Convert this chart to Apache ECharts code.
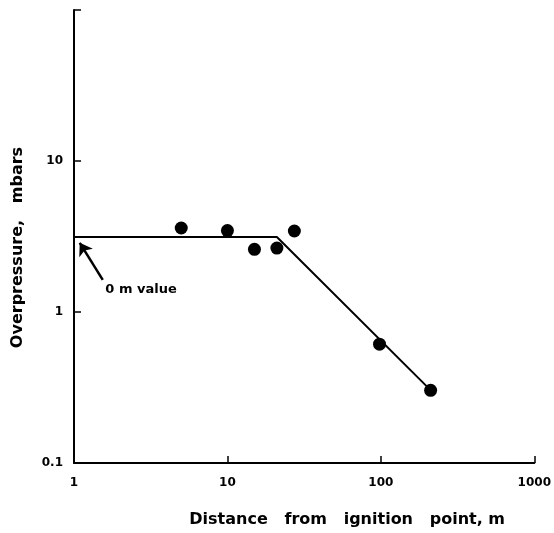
<!DOCTYPE html>
<html>
<head>
<meta charset="utf-8">
<script src="https://cdn.jsdelivr.net/npm/echarts@6/dist/echarts.min.js"></script>
<style>html,body{margin:0;padding:0;background:#fff;}#c{width:554px;height:533px;}</style>
</head>
<body>
<div id="c"></div>
<script>
// Measured points (distance m, overpressure mbar)
var distances = [5, 10, 15, 21, 27.3, 98, 211];
var overpressures = [3.6, 3.46, 2.6, 2.65, 3.44, 0.612, 0.303];
// Fitted line vertices
var fitX = [1, 21, 210];
var fitY = [3.14, 3.14, 0.305];
// Annotation: arrow from tail to tip, and text anchor
var arrowTail = [1.54, 1.63];
var arrowTip = [1.09, 2.87];
var noteAnchor = [1.6, 1.4];
var noteText = '0 m value';
// Tick labels
var xTickValues = [1, 10, 100, 1000];
var xTickLabels = ['1', '10', '100', '1000'];
var yTickValues = [0.1, 1, 10];
var yTickLabels = ['0.1', '1', '10'];

function lookup(vals, labs, v) {
  for (var i = 0; i < vals.length; i++) {
    if (Math.abs(Math.log10(v) - Math.log10(vals[i])) < 1e-6) return labs[i];
  }
  return '';
}

var font = 'DejaVu Sans';
var chart = echarts.init(document.getElementById('c'));
chart.setOption({
  backgroundColor: '#fff',
  animation: false,
  grid: {left: 74, right: 15, top: 10, bottom: 65},
  xAxis: {
    type: 'log', logBase: 10, min: 1, max: 1000,
    name: 'Distance   from   ignition   point, m',
    nameLocation: 'middle', nameGap: 49,
    nameTextStyle: {color: '#000', fontFamily: font, fontSize: 16, fontWeight: 'bold', padding: [0, 0, 0, 86]},
    axisLine: {lineStyle: {color: '#000', width: 2}},
    axisTick: {show: true, inside: true, length: 7, lineStyle: {color: '#000', width: 1.5}},
    minorTick: {show: false},
    splitLine: {show: false},
    axisLabel: {inside: false, color: '#000', fontFamily: font, fontSize: 12, fontWeight: 'bold', margin: 14,
      formatter: function (v) { return lookup(xTickValues, xTickLabels, v); }}
  },
  yAxis: {
    type: 'log', logBase: 10, min: 0.1, max: 100,
    name: 'Overpressure,   mbars',
    nameLocation: 'middle', nameGap: 48, nameRotate: 90,
    nameTextStyle: {color: '#000', fontFamily: font, fontSize: 16, fontWeight: 'bold', padding: [0, 22, 0, 0]},
    axisLine: {lineStyle: {color: '#000', width: 2}},
    axisTick: {show: true, inside: true, length: 7, lineStyle: {color: '#000', width: 1.5}},
    splitLine: {show: false},
    axisLabel: {inside: false, color: '#000', fontFamily: font, fontSize: 12, fontWeight: 'bold', margin: 11,
      formatter: function (v) { return lookup(yTickValues, yTickLabels, v); }}
  },
  series: [
    {
      type: 'line',
      data: fitX.map(function (x, i) { return [x, fitY[i]]; }),
      symbol: 'none',
      lineStyle: {color: '#000', width: 2},
      z: 2,
      markLine: {
        silent: true,
        symbol: ['none', 'arrow'],
        symbolSize: 12,
        lineStyle: {color: '#000', width: 2.5, type: 'solid', opacity: 1},
        itemStyle: {color: '#000'},
        label: {show: false},
        data: [[{coord: arrowTail}, {coord: arrowTip}]]
      }
    },
    {
      type: 'scatter',
      data: distances.map(function (x, i) { return [x, overpressures[i]]; }),
      symbol: 'circle',
      symbolSize: 13,
      itemStyle: {color: '#000', opacity: 1},
      z: 3
    },
    {
      type: 'scatter',
      data: [noteAnchor],
      symbolSize: 0,
      silent: true,
      itemStyle: {color: '#000', opacity: 1},
      label: {show: true, position: 'right', distance: 0, formatter: noteText,
        color: '#000', fontFamily: font, fontSize: 13, fontWeight: 'bold'}
    }
  ]
});
</script>
</body>
</html>
